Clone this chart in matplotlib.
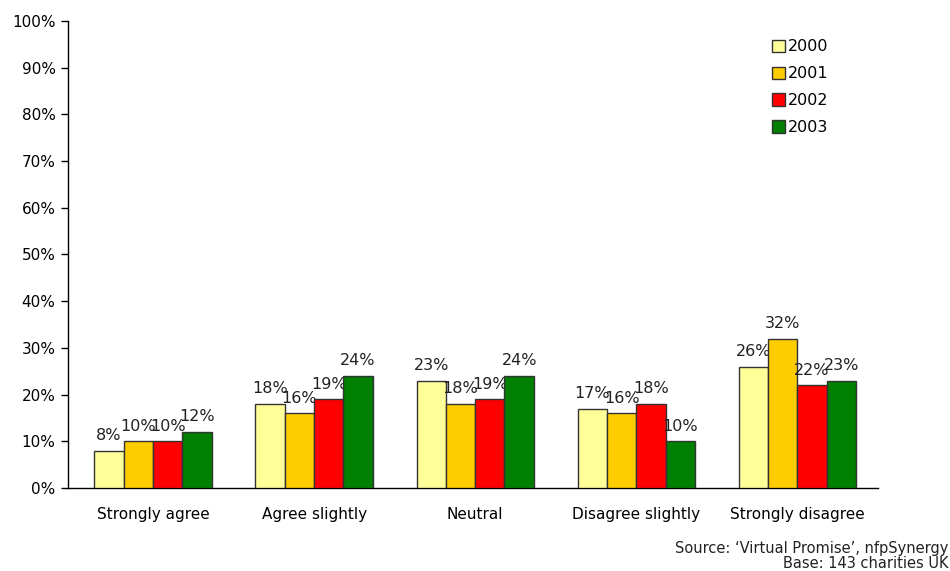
import matplotlib
matplotlib.use("Agg")
import matplotlib.pyplot as plt
import numpy as np
from matplotlib.ticker import PercentFormatter

categories = ["Strongly agree", "Agree slightly", "Neutral", "Disagree slightly", "Strongly disagree"]
years = ["2000", "2001", "2002", "2003"]
values_2000 = [8, 18, 23, 17, 26]
values_2001 = [10, 16, 18, 16, 32]
values_2002 = [10, 19, 19, 18, 22]
values_2003 = [12, 24, 24, 10, 23]
colors = ["#FFFF99", "#FFCC00", "#FF0000", "#008000"]

series = [values_2000, values_2001, values_2002, values_2003]

plt.rcParams["font.family"] = ["DejaVu Sans"]
fig = plt.figure(figsize=(9.5, 5.71), dpi=100)
ax = fig.add_axes([0.0716, 0.1454, 0.8524, 0.8178])

x = np.arange(len(categories))
bw = 0.182
for i, (vals, col, yr) in enumerate(zip(series, colors, years)):
    pos = x + (i - 1.5) * bw
    bars = ax.bar(pos, vals, width=bw, color=col, edgecolor="#333333",
                  linewidth=1.0, label=yr, zorder=3)
    for b, v in zip(bars, vals):
        ax.text(b.get_x() + b.get_width() / 2, v + 1.6, f"{v}%",
                ha="center", va="bottom", fontsize=11.5, color="#222222")

ax.set_xlim(-0.528, len(categories) - 0.5)
ax.set_ylim(0, 100)
ax.set_yticks(np.arange(0, 101, 10))
ax.yaxis.set_major_formatter(PercentFormatter(decimals=0))
ax.set_xticks(x)
ax.set_xticklabels(categories)
ax.tick_params(axis="x", length=0, pad=14, labelsize=11)
ax.tick_params(axis="y", length=5, width=1, labelsize=11, pad=4)
for side in ("top", "right"):
    ax.spines[side].set_visible(False)
ax.spines["left"].set_linewidth(1.0)
ax.spines["bottom"].set_linewidth(1.0)

leg = ax.legend(loc="upper left", bbox_to_anchor=(0.856, 0.985), frameon=False,
                fontsize=11.5, handlelength=0.8, handleheight=0.8,
                handletextpad=0.2, labelspacing=0.75, borderpad=0.2)

fig.text(0.998, 1 - 548 / 571, "Source: \u2018Virtual Promise\u2019, nfpSynergy",
         ha="right", va="center", fontsize=10.5, color="#222222")
fig.text(0.998, 1 - 564 / 571, "Base: 143 charities UK",
         ha="right", va="center", fontsize=10.5, color="#222222")

fig.savefig("out.png", dpi=100)
